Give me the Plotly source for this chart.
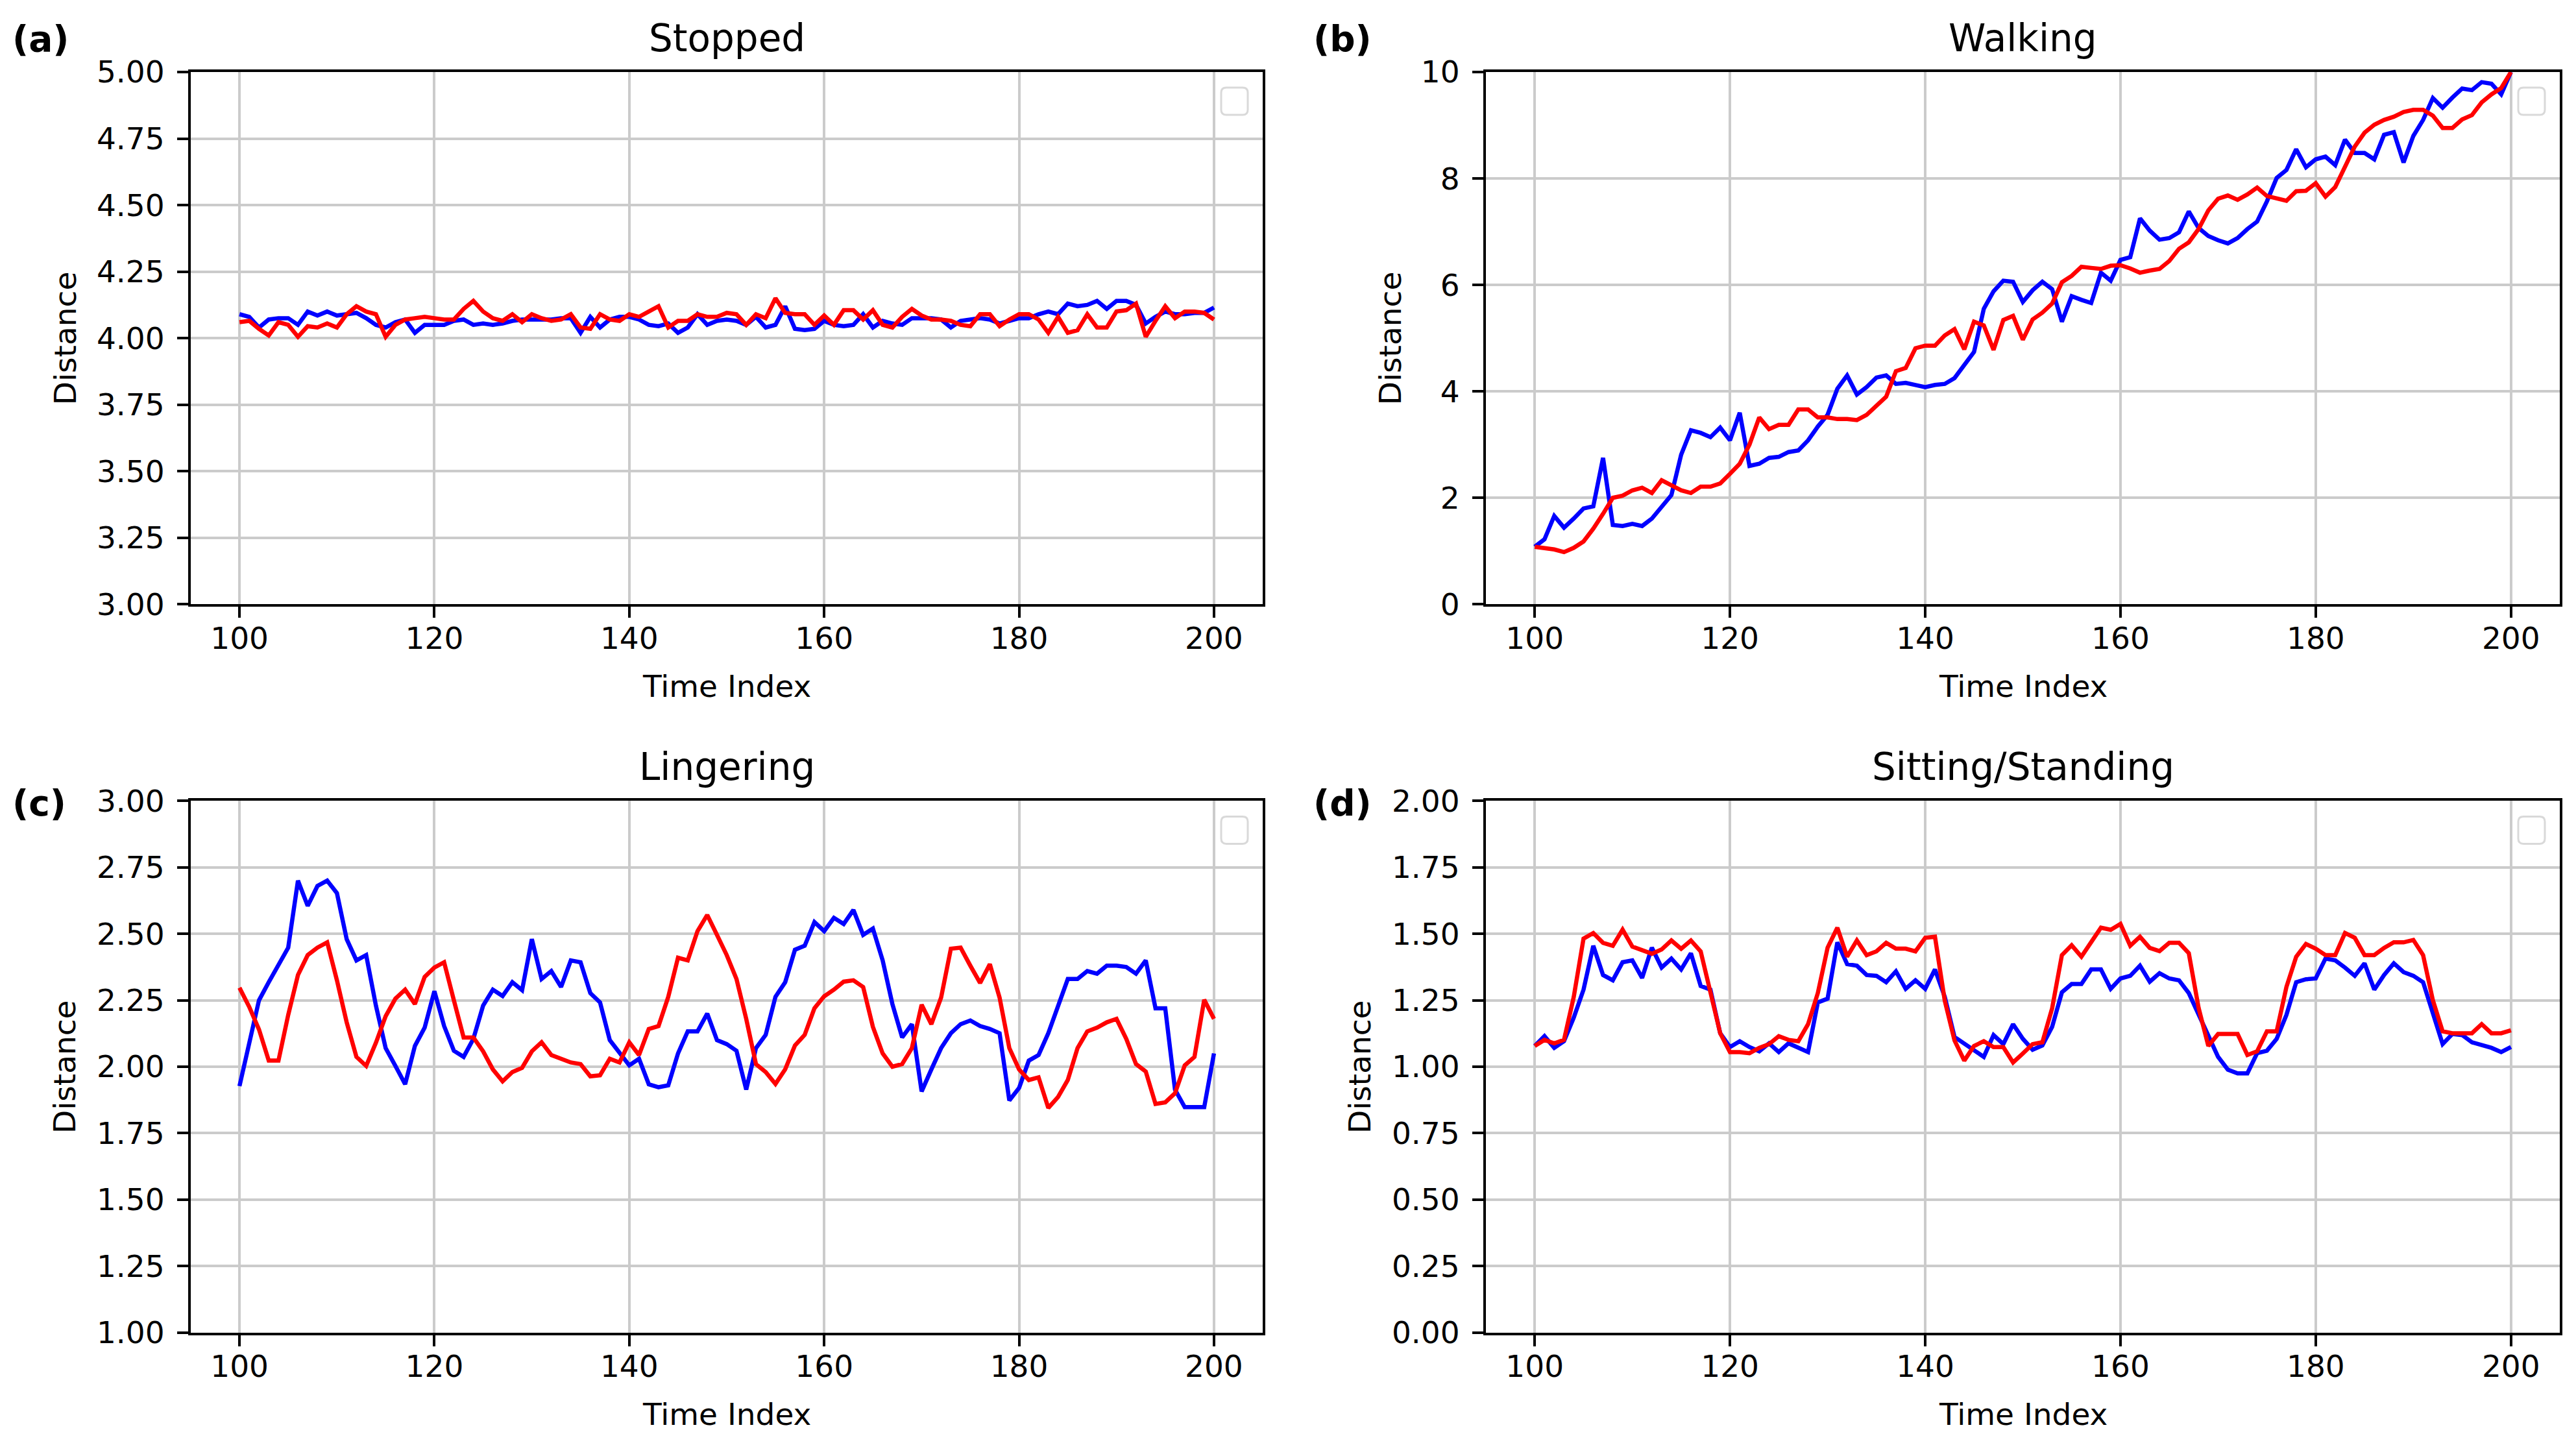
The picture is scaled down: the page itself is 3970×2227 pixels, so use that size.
import plotly.graph_objects as go

W, H = 3970, 2227

time_index = list(range(100, 201))
x_ticks = [100, 120, 140, 160, 180, 200]

stopped_red = [
    4.06, 4.065, 4.035, 4.01, 4.06, 4.05, 4.005, 4.045, 4.04, 4.055,
    4.04, 4.09, 4.12, 4.10, 4.09, 4.005, 4.05, 4.07, 4.075, 4.08,
    4.075, 4.07, 4.07, 4.11, 4.14, 4.10, 4.075, 4.065, 4.09, 4.06,
    4.09, 4.075, 4.065, 4.07, 4.09, 4.04, 4.035, 4.09, 4.07, 4.065,
    4.09, 4.08, 4.10, 4.12, 4.04, 4.065, 4.065, 4.09, 4.08, 4.08,
    4.095, 4.09, 4.05, 4.09, 4.075, 4.15, 4.095, 4.09, 4.09, 4.05,
    4.085, 4.05, 4.105, 4.105, 4.07, 4.105, 4.05, 4.04, 4.08, 4.11,
    4.085, 4.07, 4.07, 4.065, 4.05, 4.045, 4.09, 4.09, 4.045, 4.07,
    4.09, 4.09, 4.07, 4.02, 4.08, 4.02, 4.03, 4.09, 4.04, 4.04,
    4.10, 4.105, 4.13, 4.005, 4.065, 4.12, 4.075, 4.10, 4.10, 4.095,
    4.07]
stopped_blue = [
    4.09, 4.08, 4.04, 4.07, 4.075, 4.075, 4.05, 4.10, 4.085, 4.10,
    4.085, 4.09, 4.095, 4.075, 4.05, 4.04, 4.06, 4.07, 4.02, 4.05,
    4.05, 4.05, 4.065, 4.07, 4.05, 4.055, 4.05, 4.055, 4.065, 4.07,
    4.07, 4.07, 4.07, 4.075, 4.075, 4.02, 4.08, 4.04, 4.07, 4.08,
    4.08, 4.07, 4.05, 4.045, 4.055, 4.02, 4.04, 4.09, 4.05, 4.065,
    4.07, 4.065, 4.05, 4.08, 4.04, 4.05, 4.12, 4.035, 4.03, 4.035,
    4.065, 4.05, 4.045, 4.05, 4.09, 4.04, 4.065, 4.055, 4.05, 4.075,
    4.075, 4.075, 4.07, 4.04, 4.065, 4.07, 4.075, 4.07, 4.055, 4.065,
    4.075, 4.075, 4.09, 4.10, 4.09, 4.13, 4.12, 4.125, 4.14, 4.11,
    4.14, 4.14, 4.125, 4.055, 4.08, 4.10, 4.09, 4.09, 4.095, 4.095,
    4.115]

walking_red = [
    1.08, 1.06, 1.03, 0.98, 1.06, 1.18, 1.42, 1.70, 2.00, 2.04,
    2.14, 2.19, 2.09, 2.33, 2.23, 2.14, 2.09, 2.21, 2.21, 2.27,
    2.45, 2.64, 3.00, 3.51, 3.29, 3.37, 3.37, 3.66, 3.66, 3.51,
    3.51, 3.48, 3.48, 3.46, 3.56, 3.73, 3.90, 4.38, 4.44, 4.81,
    4.86, 4.86, 5.05, 5.17, 4.79, 5.31, 5.24, 4.78, 5.34, 5.42,
    4.97, 5.35, 5.48, 5.65, 6.05, 6.17, 6.34, 6.32, 6.30, 6.36,
    6.37, 6.31, 6.23, 6.27, 6.30, 6.45, 6.68, 6.80, 7.05, 7.40,
    7.62, 7.68, 7.60, 7.70, 7.83, 7.67, 7.63, 7.58, 7.76, 7.77,
    7.91, 7.66, 7.84, 8.22, 8.60, 8.86, 9.01, 9.10, 9.16, 9.25,
    9.29, 9.29, 9.18, 8.95, 8.95, 9.11, 9.19, 9.43, 9.58, 9.70,
    10.0]
walking_blue = [
    1.08, 1.22, 1.66, 1.44, 1.61, 1.80, 1.84, 2.75, 1.49, 1.47,
    1.51, 1.47, 1.61, 1.82, 2.05, 2.81, 3.27, 3.22, 3.14, 3.32,
    3.08, 3.60, 2.60, 2.64, 2.75, 2.77, 2.86, 2.89, 3.08, 3.34,
    3.56, 4.05, 4.30, 3.94, 4.08, 4.26, 4.30, 4.14, 4.16, 4.12,
    4.08, 4.12, 4.14, 4.25, 4.49, 4.74, 5.55, 5.88, 6.08, 6.06,
    5.68, 5.90, 6.06, 5.92, 5.31, 5.79, 5.72, 5.66, 6.23, 6.08,
    6.47, 6.52, 7.25, 7.02, 6.85, 6.88, 6.99, 7.38, 7.07, 6.92,
    6.84, 6.78, 6.88, 7.05, 7.19, 7.57, 8.01, 8.16, 8.55, 8.21,
    8.36, 8.41, 8.25, 8.73, 8.48, 8.48, 8.36, 8.82, 8.87, 8.30,
    8.80, 9.10, 9.51, 9.33, 9.52, 9.69, 9.66, 9.81, 9.78, 9.58,
    10.0]

lingering_red = [
    2.297, 2.225, 2.14, 2.023, 2.023, 2.195, 2.345, 2.42, 2.448, 2.468,
    2.325, 2.167, 2.037, 2.003, 2.09, 2.19, 2.256, 2.29, 2.236, 2.338,
    2.373, 2.393, 2.25, 2.11, 2.11, 2.058, 1.99, 1.945, 1.98, 1.996,
    2.058, 2.092, 2.044, 2.03, 2.016, 2.01, 1.964, 1.968, 2.03, 2.016,
    2.092, 2.044, 2.142, 2.153, 2.263, 2.41, 2.40, 2.51, 2.571, 2.496,
    2.42, 2.33, 2.18, 2.01, 1.98, 1.935, 1.99, 2.08, 2.12, 2.22,
    2.265, 2.29, 2.32, 2.325, 2.30, 2.15, 2.05, 2.00, 2.01, 2.07,
    2.233, 2.16, 2.26, 2.444, 2.448, 2.38, 2.315, 2.386, 2.26, 2.07,
    1.99, 1.95, 1.96, 1.845, 1.886, 1.95, 2.07, 2.133, 2.147, 2.167,
    2.18, 2.105, 2.01, 1.982, 1.86, 1.866, 1.90, 2.005, 2.037, 2.252,
    2.18]
lingering_blue = [
    1.927, 2.085, 2.25, 2.318, 2.386, 2.448, 2.70, 2.605, 2.68, 2.70,
    2.653, 2.48, 2.40, 2.42, 2.23, 2.07, 2.003, 1.934, 2.078, 2.147,
    2.284, 2.153, 2.06, 2.037, 2.105, 2.23, 2.29, 2.266, 2.318, 2.288,
    2.48, 2.33, 2.36, 2.30, 2.40, 2.393, 2.277, 2.242, 2.10, 2.05,
    2.005, 2.03, 1.934, 1.923, 1.93, 2.05, 2.133, 2.133, 2.20, 2.10,
    2.085, 2.06, 1.914, 2.07, 2.12, 2.263, 2.318, 2.44, 2.455, 2.544,
    2.51, 2.56, 2.537, 2.59, 2.496, 2.52, 2.40, 2.236, 2.11, 2.16,
    1.907, 1.99, 2.07, 2.126, 2.16, 2.174, 2.153, 2.142, 2.126, 1.873,
    1.92, 2.023, 2.044, 2.126, 2.23, 2.33, 2.33, 2.36, 2.35, 2.38,
    2.38, 2.375, 2.35, 2.40, 2.22, 2.22, 1.914, 1.848, 1.848, 1.848,
    2.05]

sitting_red = [
    1.078, 1.101, 1.088, 1.101, 1.263, 1.482, 1.503, 1.466, 1.455, 1.516,
    1.452, 1.438, 1.425, 1.441, 1.475, 1.444, 1.475, 1.434, 1.284, 1.126,
    1.055, 1.055, 1.051, 1.071, 1.085, 1.115, 1.101, 1.096, 1.16, 1.277,
    1.448, 1.523, 1.414, 1.475, 1.42, 1.434, 1.466, 1.444, 1.444, 1.434,
    1.485, 1.489, 1.249, 1.099, 1.023, 1.078, 1.096, 1.074, 1.074, 1.016,
    1.05, 1.085, 1.092, 1.22, 1.42, 1.457, 1.414, 1.468, 1.523, 1.515,
    1.537, 1.455, 1.489, 1.447, 1.435, 1.466, 1.466, 1.427, 1.222, 1.078,
    1.123, 1.123, 1.123, 1.044, 1.058, 1.133, 1.133, 1.30, 1.414, 1.462,
    1.444, 1.42, 1.42, 1.503, 1.485, 1.42, 1.42, 1.447, 1.468, 1.468,
    1.477, 1.42, 1.25, 1.133, 1.126, 1.126, 1.126, 1.16, 1.126, 1.126,
    1.137]
sitting_blue = [
    1.078, 1.115, 1.071, 1.096, 1.185, 1.29, 1.455, 1.345, 1.325, 1.393,
    1.40, 1.334, 1.448, 1.373, 1.407, 1.366, 1.427, 1.304, 1.29, 1.126,
    1.074, 1.096, 1.074, 1.058, 1.088, 1.055, 1.088, 1.071, 1.055, 1.242,
    1.256, 1.468, 1.386, 1.38, 1.345, 1.342, 1.318, 1.359, 1.293, 1.325,
    1.293, 1.366, 1.263, 1.112, 1.088, 1.06, 1.037, 1.119, 1.085, 1.16,
    1.105, 1.064, 1.08, 1.15, 1.28, 1.311, 1.311, 1.366, 1.366, 1.293,
    1.332, 1.342, 1.38, 1.32, 1.352, 1.332, 1.325, 1.277, 1.195, 1.112,
    1.037, 0.989, 0.975, 0.975, 1.051, 1.06, 1.105, 1.195, 1.318, 1.329,
    1.332, 1.407, 1.40, 1.373, 1.342, 1.389, 1.29, 1.345, 1.389, 1.356,
    1.342, 1.318, 1.201, 1.085, 1.123, 1.119, 1.092, 1.082, 1.071, 1.055,
    1.074]

panel_titles = ["Stopped", "Walking", "Lingering", "Sitting/Standing"]
panel_letters = ["(a)", "(b)", "(c)", "(d)"]
y_ranges = [[3, 5], [0, 10], [1, 3], [0, 2]]
y_dticks = [0.25, 2, 0.25, 0.25]
y_formats = [".2f", "d", ".2f", ".2f"]
series_red = [stopped_red, walking_red, lingering_red, sitting_red]
series_blue = [stopped_blue, walking_blue, lingering_blue, sitting_blue]
x_label = "Time Index"
y_label = "Distance"

# ---- layout geometry: target pixel positions on the 3970x2227 picture ----
col_px = [(294, 1946), (2290, 3945)]
row_px = [(108, 928), (1231, 2050)]

# compensation for the page offset / vertical fit observed in the capture
X_OFF = 8
Y_OFF = 33
Y_SCALE = 0.975


def px_x(p):
    return (p - X_OFF) / W


def px_y(p):
    return 1 - ((p - Y_OFF) / Y_SCALE) / H


FONT = "DejaVu Sans"
TICK_SIZE = 47
TITLE_SIZE = 58

fig = go.Figure()
annotations = []
shapes = []

for i in range(4):
    r, c = divmod(i, 2)
    x0p, x1p = col_px[c]
    y0p, y1p = row_px[r]
    n = "" if i == 0 else str(i + 1)
    xa, ya = "x" + n, "y" + n

    fig.add_trace(go.Scatter(x=time_index, y=series_blue[i], mode="lines",
                             line=dict(color="#0000ff", width=6.5),
                             xaxis=xa, yaxis=ya, showlegend=False, hoverinfo="skip"))
    fig.add_trace(go.Scatter(x=time_index, y=series_red[i], mode="lines",
                             line=dict(color="#ff0000", width=6.5),
                             xaxis=xa, yaxis=ya, showlegend=False, hoverinfo="skip"))

    common = dict(showline=True, linecolor="black", linewidth=4, mirror=True,
                  ticks="outside", ticklen=17, tickwidth=4, tickcolor="black",
                  showgrid=True, gridcolor="#cbcbcb", gridwidth=3.5, zeroline=False,
                  tickfont=dict(family=FONT, size=TICK_SIZE, color="black"))
    fig.layout["xaxis" + n] = dict(common, domain=[px_x(x0p), px_x(x1p)],
                                   range=[95, 205], tickmode="array", tickvals=x_ticks,
                                   anchor=ya, ticklabelstandoff=-9)
    fig.layout["yaxis" + n] = dict(common, domain=[px_y(y1p), px_y(y0p)],
                                   range=y_ranges[i], dtick=y_dticks[i], tick0=0,
                                   tickformat=y_formats[i], anchor=xa,
                                   ticklabelstandoff=10)

    cx = (x0p + x1p) / 2
    cy = (y0p + y1p) / 2
    annotations.append(dict(text=panel_titles[i], x=px_x(cx), y=px_y(y0p - 52),
                            xref="paper", yref="paper", showarrow=False,
                            xanchor="center", yanchor="middle",
                            font=dict(family=FONT, size=TITLE_SIZE, color="black")))
    let_x = 17 if c == 0 else 2022
    let_y = 57 if r == 0 else 1235
    annotations.append(dict(text="<b>" + panel_letters[i] + "</b>", x=px_x(let_x), y=px_y(let_y),
                            xref="paper", yref="paper", showarrow=False,
                            xanchor="left", yanchor="middle",
                            font=dict(family=FONT, size=55, color="black")))
    annotations.append(dict(text=x_label, x=px_x(cx), y=px_y(y1p + 126),
                            xref="paper", yref="paper", showarrow=False,
                            xanchor="center", yanchor="middle",
                            font=dict(family=FONT, size=TICK_SIZE, color="black")))
    ylab_x = [100, 2142, 100, 2096][i]
    annotations.append(dict(text=y_label, x=px_x(ylab_x), y=px_y(cy), textangle=-90,
                            xref="paper", yref="paper", showarrow=False,
                            xanchor="center", yanchor="middle",
                            font=dict(family=FONT, size=TICK_SIZE, color="black")))
    # empty legend frame (rounded square, top-right)
    bx1 = x1p - 23
    bx0 = bx1 - 41
    by0 = y0p + 24
    by1 = by0 + 42
    rad = 8
    rx, ry = rad / W, rad / H
    X0, X1 = px_x(bx0), px_x(bx1)
    Y0, Y1 = px_y(by0), px_y(by1)
    path = (f"M {X0 + rx},{Y0} L {X1 - rx},{Y0} Q {X1},{Y0} {X1},{Y0 - ry} "
            f"L {X1},{Y1 + ry} Q {X1},{Y1} {X1 - rx},{Y1} "
            f"L {X0 + rx},{Y1} Q {X0},{Y1} {X0},{Y1 + ry} "
            f"L {X0},{Y0 - ry} Q {X0},{Y0} {X0 + rx},{Y0} Z")
    shapes.append(dict(type="path", path=path, xref="paper", yref="paper",
                       line=dict(color="#d9d9d9", width=3), fillcolor="white", layer="above"))

fig.update_layout(width=W, height=H, autosize=False,
                  margin=dict(l=0, r=0, t=0, b=0),
                  paper_bgcolor="white", plot_bgcolor="white",
                  annotations=annotations, shapes=shapes, showlegend=False,
                  font=dict(family=FONT))

fig.write_html("out.html")
